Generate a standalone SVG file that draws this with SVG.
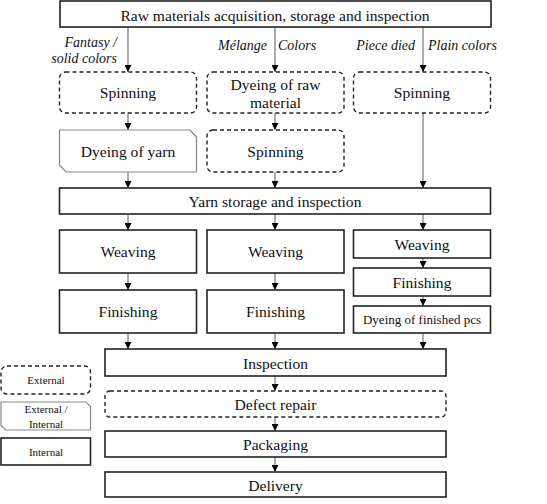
<svg xmlns="http://www.w3.org/2000/svg" width="547" height="504" viewBox="0 0 547 504">
<defs>
<marker id="arr" markerUnits="userSpaceOnUse" markerWidth="8" markerHeight="7" refX="7" refY="3.5" orient="auto">
<path d="M0,0 L7,3.5 L0,7 Z" fill="#000"/>
</marker>
<style>
.box{fill:#fff;stroke:#222;stroke-width:1.6}
.dash{fill:#fff;stroke:#222;stroke-width:1.4;stroke-dasharray:4 3}
.cham{fill:#fff;stroke:#888;stroke-width:1.2}
.t{font-size:15.6px;fill:#111;text-anchor:middle}
.s{font-size:13px}
.lg{font-size:11px}
.it{font-size:14px;font-style:italic;fill:#111}
.c{stroke:#808080;stroke-width:1.3;fill:none;marker-end:url(#arr)}
</style>
</defs>
<rect width="547" height="504" fill="#fff"/>
<g id="connectors">
<line class="c" x1="128" y1="27" x2="128" y2="72"/>
<line class="c" x1="275" y1="27" x2="275" y2="72"/>
<line class="c" x1="423" y1="27" x2="423" y2="72"/>
<line class="c" x1="128" y1="113" x2="128" y2="130"/>
<line class="c" x1="275" y1="113" x2="275" y2="130"/>
<line class="c" x1="423" y1="113" x2="423" y2="188"/>
<line class="c" x1="128" y1="172" x2="128" y2="188"/>
<line class="c" x1="275" y1="172" x2="275" y2="188"/>
<line class="c" x1="128" y1="214" x2="128" y2="230"/>
<line class="c" x1="275" y1="214" x2="275" y2="230"/>
<line class="c" x1="423" y1="214" x2="423" y2="230"/>
<line class="c" x1="128" y1="273" x2="128" y2="290"/>
<line class="c" x1="275" y1="273" x2="275" y2="290"/>
<line class="c" x1="423" y1="258" x2="423" y2="268"/>
<line class="c" x1="423" y1="296" x2="423" y2="306"/>
<line class="c" x1="128" y1="333" x2="128" y2="349"/>
<line class="c" x1="275" y1="333" x2="275" y2="349"/>
<line class="c" x1="423" y1="333" x2="423" y2="349"/>
<line class="c" x1="275" y1="376" x2="275" y2="391"/>
<line class="c" x1="275" y1="417" x2="275" y2="431"/>
<line class="c" x1="275" y1="457" x2="275" y2="472"/>
</g>
<g font-family="'Liberation Serif', 'Times New Roman', 'DejaVu Serif', serif">
<g id="labels">
<text class="it" x="117" y="47" text-anchor="end">Fantasy /</text>
<text class="it" x="117" y="63" text-anchor="end">solid colors</text>
<text class="it" x="267" y="50" text-anchor="end">Mélange</text>
<text class="it" x="278" y="50">Colors</text>
<text class="it" x="415" y="50" text-anchor="end">Piece died</text>
<text class="it" x="428" y="50">Plain colors</text>
</g>
<g id="raw"><rect class="box" x="60" y="1" width="431" height="26"/><text class="t" x="275" y="21">Raw materials acquisition, storage and inspection</text></g>
<g id="spin1"><rect class="dash" x="59.5" y="72" width="137" height="41" rx="6"/><text class="t" x="128" y="98">Spinning</text></g>
<g id="dyeraw"><rect class="dash" x="207" y="72" width="137" height="41" rx="6"/><text class="t" x="275.5" y="90">Dyeing of raw</text><text class="t" x="275.5" y="108">material</text></g>
<g id="spin3"><rect class="dash" x="353.5" y="72" width="137" height="41" rx="6"/><text class="t" x="422" y="98">Spinning</text></g>
<g id="dyeyarn"><polygon class="cham" points="59.5,130 190,130 196.5,137 196.5,172 66,172 59.5,165"/><text class="t" x="128" y="157">Dyeing of yarn</text></g>
<g id="spin2"><rect class="dash" x="207" y="130" width="137" height="42" rx="6"/><text class="t" x="275.5" y="157">Spinning</text></g>
<g id="yarn"><rect class="box" x="59.5" y="188" width="431" height="26"/><text class="t" x="275" y="207">Yarn storage and inspection</text></g>
<g id="weave1"><rect class="box" x="59.5" y="230" width="137" height="43"/><text class="t" x="128" y="257">Weaving</text></g>
<g id="weave2"><rect class="box" x="207" y="230" width="137" height="43"/><text class="t" x="275.5" y="257">Weaving</text></g>
<g id="weave3"><rect class="box" x="353.5" y="230" width="137" height="28"/><text class="t" x="422" y="250">Weaving</text></g>
<g id="fin1"><rect class="box" x="59.5" y="290" width="137" height="43"/><text class="t" x="128" y="317">Finishing</text></g>
<g id="fin2"><rect class="box" x="207" y="290" width="137" height="43"/><text class="t" x="275.5" y="317">Finishing</text></g>
<g id="fin3"><rect class="box" x="353.5" y="268" width="137" height="28"/><text class="t" x="422" y="288">Finishing</text></g>
<g id="dyefin"><rect class="box" x="353.5" y="306" width="137" height="27"/><text class="t s" x="422" y="324">Dyeing of finished pcs</text></g>
<g id="insp"><rect class="box" x="105" y="349" width="341" height="27"/><text class="t" x="275.5" y="369">Inspection</text></g>
<g id="defect"><rect class="dash" x="105" y="391" width="341" height="26" rx="5"/><text class="t" x="275.5" y="410">Defect repair</text></g>
<g id="pack"><rect class="box" x="105" y="431" width="341" height="26"/><text class="t" x="275.5" y="450">Packaging</text></g>
<g id="deliv"><rect class="box" x="105" y="472" width="341" height="25"/><text class="t" x="275.5" y="491">Delivery</text></g>
<g id="leg-ext"><rect class="dash" x="1" y="366" width="89.5" height="28" rx="6"/><text class="t lg" x="46" y="384">External</text></g>
<g id="leg-extint"><polygon class="cham" points="1,402 86,402 90.5,406.5 90.5,430 5.5,430 1,425.5"/><text class="t lg" x="46" y="413">External  /</text><text class="t lg" x="46" y="428">Internal</text></g>
<g id="leg-int"><rect class="box" x="1" y="438" width="89.5" height="27"/><text class="t lg" x="46" y="456">Internal</text></g>
</g>
</svg>
